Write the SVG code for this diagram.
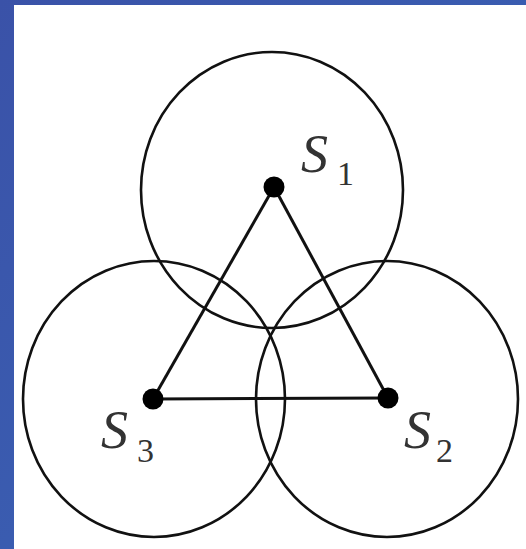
<svg xmlns="http://www.w3.org/2000/svg" width="526" height="549" viewBox="0 0 526 549">
  <defs>
    <linearGradient id="bg" x1="0" y1="0" x2="1" y2="1">
      <stop offset="0" stop-color="#3a52a8"/>
      <stop offset="1" stop-color="#3a66b8"/>
    </linearGradient>
    <style>
      .ring { fill: none; stroke: #111; stroke-width: 2.6; }
      .edge { stroke: #111; stroke-width: 3; fill: none; }
      .dot { fill: #000; }
      .lbl { font-family: "Liberation Serif", "Times New Roman", serif; font-style: italic; font-size: 54px; fill: #333; }
      .sub { font-family: "Liberation Serif", "Times New Roman", serif; font-size: 34px; fill: #333; }
    </style>
  </defs>
  <rect x="0" y="0" width="526" height="549" fill="url(#bg)"/>
  <rect x="14" y="5" width="512" height="544" fill="#ffffff"/>

  <g id="connectors">
    <line class="edge" x1="274" y1="187" x2="153" y2="399"/>
    <line class="edge" x1="274" y1="187" x2="388" y2="398"/>
    <line class="edge" x1="153" y1="399" x2="388" y2="398"/>
  </g>

  <g id="S1">
    <ellipse class="ring" cx="272" cy="190" rx="131" ry="138"/>
    <circle class="dot" cx="274" cy="187" r="10.5"/>
    <text class="lbl" x="301" y="172">S</text>
    <text class="sub" x="337" y="185">1</text>
  </g>

  <g id="S3">
    <ellipse class="ring" cx="154" cy="399" rx="131" ry="138"/>
    <circle class="dot" cx="153" cy="399" r="10.5"/>
    <text class="lbl" x="101" y="448">S</text>
    <text class="sub" x="137" y="462">3</text>
  </g>

  <g id="S2">
    <ellipse class="ring" cx="387" cy="399" rx="131" ry="138"/>
    <circle class="dot" cx="388" cy="398" r="10.5"/>
    <text class="lbl" x="404" y="448">S</text>
    <text class="sub" x="436" y="462">2</text>
  </g>
</svg>
